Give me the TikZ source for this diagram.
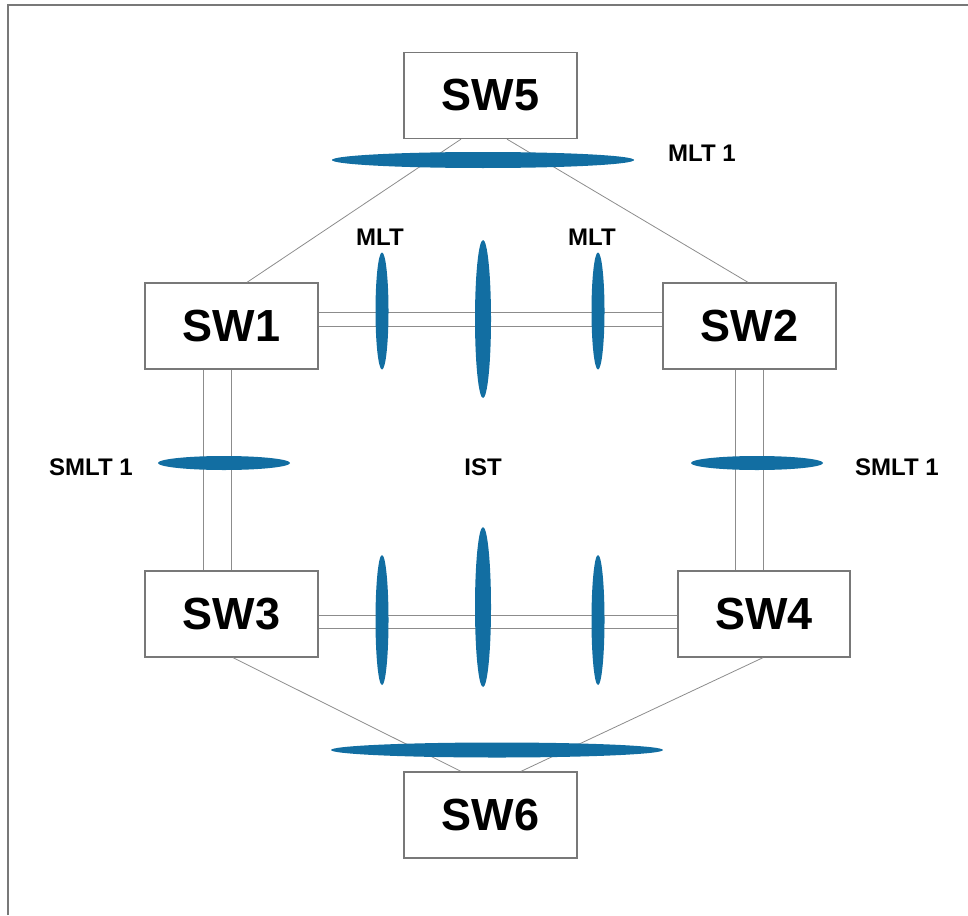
\documentclass[tikz,border=0pt]{standalone}
\usepackage{fontspec}
\setmainfont{Liberation Sans}
\usetikzlibrary{shapes.geometric,calc}
\definecolor{lensblue}{RGB}{18,110,162}
\definecolor{boxgray}{RGB}{120,120,120}
\definecolor{linegray}{RGB}{140,140,140}
\tikzset{
  swbox/.style={draw=boxgray, line width=1.3pt, fill=white, minimum width=173pt, minimum height=86pt, inner sep=0pt, font=\fontsize{45}{45}\selectfont\bfseries},
  lbl/.style={font=\fontsize{24}{24}\selectfont\bfseries, inner sep=0pt},
  link/.style={draw=linegray, line width=0.8pt},
  lens/.style={ellipse, fill=lensblue, inner sep=0pt},
  hlens/.style={lens, minimum height=15pt},
  vlens/.style={lens, minimum width=13pt},
}
\begin{document}
\begin{tikzpicture}[x=1pt,y=-1pt]
\useasboundingbox (0,0) rectangle (968,915);
\draw[boxgray, line width=2pt] (8,915) -- (8,5) -- (968,5);

% switches
\node[swbox] (sw5) at (490.5,95.5) {SW5};
\node[swbox] (sw1) at (231.5,326) {SW1};
\node[swbox] (sw2) at (749.5,326) {SW2};
\node[swbox] (sw3) at (231.5,614) {SW3};
\node[swbox, minimum width=172pt] (sw4) at (764,614) {SW4};
\node[swbox] (sw6) at (490.5,815) {SW6};

% links
\draw[link] ([xshift=-29.5pt]sw5.south) -- ([xshift=15.5pt]sw1.north);
\draw[link] ([xshift=16.5pt]sw5.south) -- ([xshift=-1.5pt]sw2.north);
\draw[link] ([xshift=1.5pt]sw3.south) -- ([xshift=-29.5pt]sw6.north);
\draw[link] ([xshift=-1pt]sw4.south) -- ([xshift=30.5pt]sw6.north);

\draw[link] ([yshift=14pt]sw1.east) -- ([yshift=14pt]sw2.west);
\draw[link] (sw1.east) -- (sw2.west);
\draw[link] ([yshift=-1pt]sw3.east) -- ([yshift=-1pt]sw4.west);
\draw[link] ([yshift=-14pt]sw3.east) -- ([yshift=-14pt]sw4.west);

\draw[link] ([xshift=-28.5pt]sw1.south) -- ([xshift=-28.5pt]sw3.north);
\draw[link] (sw1.south) -- (sw3.north);
\coordinate (a1) at ([xshift=-14.5pt]sw2.south);
\coordinate (a2) at ([xshift=13.5pt]sw2.south);
\draw[link] (a1) -- (a1 |- sw4.north);
\draw[link] (a2) -- (a2 |- sw4.north);

% lenses
\node[hlens, minimum width=302pt, minimum height=16pt] (m5) at (483,160) {};
\node[hlens, minimum width=332pt] (m6) at (497,750) {};
\node[hlens, minimum width=132pt, minimum height=14pt] (s1) at (224,463) {};
\node[hlens, minimum width=132pt, minimum height=14pt] (s2) at (757,463) {};
\node[vlens, minimum height=117pt] (u1) at (382,311) {};
\node[vlens, minimum height=158pt, minimum width=16pt] (u2) at (483,319) {};
\node[vlens, minimum height=117pt] (u3) at (598,311) {};
\node[vlens, minimum height=130pt] (d1) at (382,620) {};
\node[vlens, minimum height=160pt, minimum width=16pt] (d2) at (483,607) {};
\node[vlens, minimum height=130pt] (d3) at (598,620) {};

% labels
\node[lbl] (t1) at (702,153) {MLT 1};
\node[lbl] (t2) at (380,237) {MLT};
\node[lbl] (t3) at (592,237) {MLT};
\node[lbl] (t4) at (91,467) {SMLT 1};
\node[lbl] (t5) at (897,467) {SMLT 1};
\node[lbl] (t6) at (483,467) {IST};
\end{tikzpicture}
\end{document}
